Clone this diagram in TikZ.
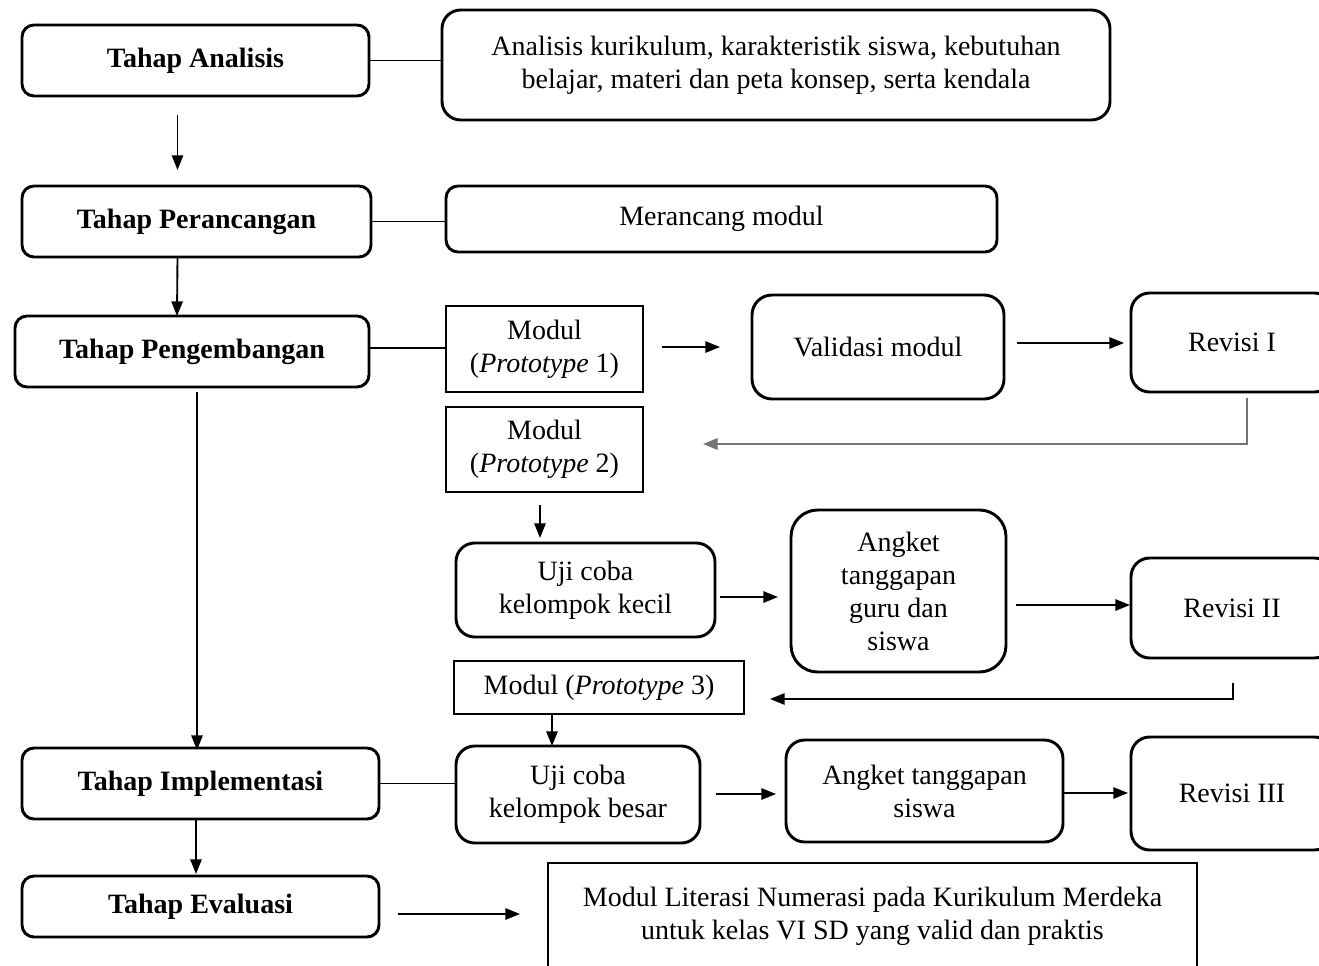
\documentclass[tikz,border=0pt]{standalone}
\usepackage{fontspec}
\setmainfont{Liberation Serif}
\usetikzlibrary{arrows.meta,calc}
\newcommand\mybox[7]{\node[#1, minimum width={(#5-#3)*0.75pt}, minimum height={(#6-#4)*0.75pt}] (#2) at ({(#3+#5)/2},{(#4+#6)/2}) {#7};}
\begin{document}
\begin{tikzpicture}[x=0.75pt,y=-0.75pt,
 every node/.style={font=\fontsize{21}{24.75}\selectfont, align=center, inner sep=0pt, outer sep=0pt},
 bold/.style={font=\fontsize{21}{24.75}\selectfont\bfseries},
 rbox/.style={draw, line width=2.2pt, rounded corners=9pt},
 sbox/.style={draw, line width=2.2pt},
 ln/.style={line width=1.4pt},
 arr/.style={line width=1.4pt, -{Triangle[length=11pt,width=8.5pt]}},
 garr/.style={arr, draw=black!55, line width=1.6pt},
]
\useasboundingbox (0,0) rectangle (1319,966);
\fill[white] (0,0) rectangle (1319,966);
\clip (0,0) rectangle (1319,966);

% left column
\mybox{rbox, bold}{ana}{22}{25}{369}{96}{Tahap Analisis}
\mybox{rbox, bold}{per}{22}{186}{371}{257}{Tahap Perancangan}
\mybox{rbox, bold}{peng}{15}{316}{369}{387}{Tahap Pengembangan}
\mybox{rbox, bold}{imp}{22}{748}{379}{819}{Tahap Implementasi}
\mybox{rbox, bold}{eva}{22}{876}{379}{937}{Tahap Evaluasi}

% right parts
\mybox{rbox, rounded corners=14pt}{at}{442}{10}{1110}{120}{Analisis kurikulum, karakteristik siswa, kebutuhan\\belajar, materi dan peta konsep, serta kendala}
\mybox{rbox}{mer}{446}{186}{997}{252}{Merancang modul}
\mybox{sbox}{p1}{446}{306}{643}{392}{Modul\\(\textit{Prototype} 1)}
\mybox{rbox, rounded corners=15pt}{val}{752}{295}{1004}{399}{Validasi modul}
\mybox{rbox, rounded corners=14pt}{rev1}{1131}{293}{1333}{392}{Revisi I}
\mybox{sbox}{p2}{446}{407}{643}{492}{Modul\\(\textit{Prototype} 2)}
\mybox{rbox, rounded corners=14pt}{ujk}{456}{543}{715}{637}{Uji coba\\kelompok kecil}
\mybox{rbox, rounded corners=20pt}{ang1}{791}{510}{1006}{672}{Angket\\tanggapan\\guru dan\\siswa}
\mybox{rbox, rounded corners=14pt}{rev2}{1131}{558}{1333}{658}{Revisi II}
\mybox{sbox}{p3}{454}{661}{744}{714}{Modul (\textit{Prototype} 3)}
\mybox{rbox, rounded corners=14pt}{ujb}{456}{746}{700}{843}{Uji coba\\kelompok besar}
\mybox{rbox, rounded corners=14pt}{ang2}{786}{740}{1063}{842}{Angket tanggapan\\siswa}
\mybox{rbox, rounded corners=14pt}{rev3}{1131}{737}{1333}{850}{Revisi III}
\mybox{sbox}{fin}{548}{863}{1197}{970}{Modul Literasi Numerasi pada Kurikulum Merdeka\\untuk kelas VI SD yang valid dan praktis}

% connectors
\draw[ln] (ana.east) -- (ana.east -| at.west);
\draw[arr] ($(ana.south)+(-18,19)$) -- ($(per.north)+(-19,-16)$);
\draw[ln] (per.east) -- (per.east -| mer.west);
\draw[arr] ($(per.south)+(-19,0)$) -- ($(peng.north)+(-15,0)$);
\draw[ln] ($(peng.east)+(0,-3.5)$) -- ($(p1.west)+(0,-1)$);
\draw[arr] ($(p1.east)+(19,-2)$) -- ($(val.west)+(-32,0)$);
\draw[arr] ($(val.east)+(13,-4)$) -- ($(rev1.west)+(-7,0.5)$);
\draw[garr] ($(rev1.south)+(15,6)$) |- ($(p2.east)+(60,-5.5)$);
\draw[arr] ($(p2.south)+(-4.5,13)$) -- ($(p2.south)+(-4.5,46)$);
\draw[arr] ($(ujk.east)+(5,7)$) -- ($(ang1.west)+(-13,6)$);
\draw[arr] ($(ang1.east)+(10,14)$) -- ($(rev2.west)+(-1,-3)$);
\draw[arr] ($(rev2.south)+(1,25)$) |- ($(p3.east)+(26,11.5)$);
\draw[arr] ($(p3.south)+(-47,0)$) -- ($(p3.south)+(-47,32)$);
\draw[arr] ($(peng.south)+(5,5)$) -- ($(imp.north)+(-3.5,2)$);
\draw[ln] (imp.east) -- (imp.east -| ujb.west);
\draw[arr] ($(ujb.east)+(16,-0.5)$) -- ($(ang2.west)+(-10,3)$);
\draw[arr] ($(ang2.east)+(0,2)$) -- ($(rev3.west)+(-3,-0.5)$);
\draw[arr] ($(imp.south)+(-4.5,1)$) -- ($(eva.north)+(-4.5,-2)$);
\draw[arr] ($(eva.east)+(19,7.5)$) -- ($(fin.west)+(-28,-2.5)$);
\end{tikzpicture}
\end{document}
